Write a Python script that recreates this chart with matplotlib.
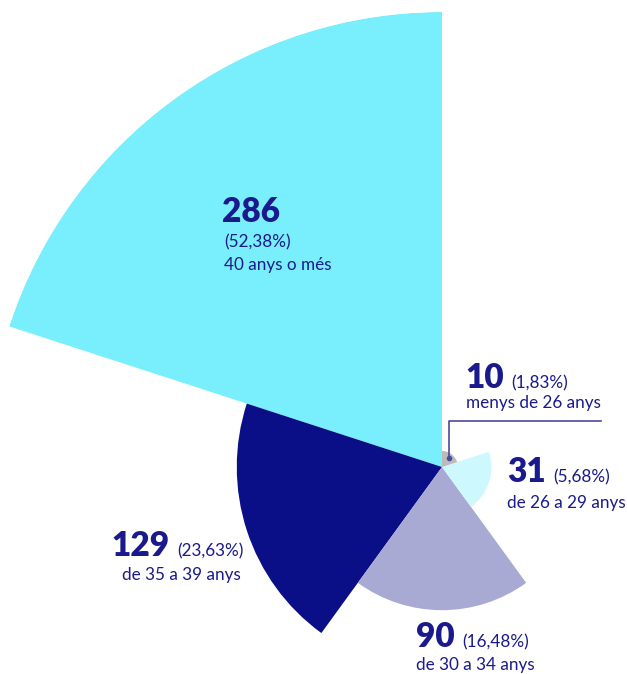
import numpy as np
import matplotlib.pyplot as plt

plt.rcParams['font.family'] = ['Lato', 'DejaVu Sans']

# data
values = [286, 129, 90, 31, 10]
pcts = ['(52,38%)', '(23,63%)', '(16,48%)', '(5,68%)', '(1,83%)']
groups = ['40 anys o més', 'de 35 a 39 anys', 'de 30 a 34 anys',
          'de 26 a 29 anys', 'menys de 26 anys']
colors = ['#79EEFD', '#0A0E87', '#A9AAD3', '#CDF8FE', '#BBBBBB']
txt = '#1A1A8C'

W, H = 627, 674
fig = plt.figure(figsize=(W / 100, H / 100), dpi=100)

# polar axes centred on the wedge origin
cx, cy, R = 442, 467, 455
ax = fig.add_axes([(cx - R) / W, 1 - (cy + R) / H, 2 * R / W, 2 * R / H],
                  projection='polar')
ax.set_theta_zero_location('N')
ax.set_theta_direction(1)

n = len(values)
width = 2 * np.pi / n
theta = np.arange(n) * width + width / 2
ax.bar(theta, values, width=width, color=colors, edgecolor='none')
ax.set_ylim(0, max(values))
ax.axis('off')


def px(x, y):
    return x / W, 1 - y / H


# labels: (number position, pct position or None for inline, group position)
labels = [
    ((222, 222), (224, 247), (224, 270)),
    ((111, 556), None, (122, 580)),
    ((416, 647), None, (416, 670)),
    ((507, 482), None, (507, 508)),
    ((465, 388), None, (466, 408)),
]

small = 12.3
renderer = fig.canvas.get_renderer()
for i, (npos, ppos, gpos) in enumerate(labels):
    t = fig.text(*px(*npos), str(values[i]), color=txt, fontsize=24,
                 fontweight='heavy', va='baseline', ha='left')
    if ppos is None:
        x1 = t.get_window_extent(renderer).x1
        ppos = (x1 + 8, npos[1])
    fig.text(*px(*ppos), pcts[i], color=txt, fontsize=small,
             va='baseline', ha='left')
    fig.text(*px(*gpos), groups[i], color=txt, fontsize=small,
             va='baseline', ha='left')

# leader line for the smallest wedge
lx = [601 / W, 449 / W, 449 / W]
ly = [1 - 421 / H, 1 - 421 / H, 1 - 458 / H]
fig.add_artist(plt.Line2D(lx, ly, color='#4A4A9A', lw=1.2))
fig.add_artist(plt.Line2D([449 / W], [1 - 458 / H], marker='o', ms=3,
                          color='#4A4A9A'))

fig.savefig('out.png', dpi=100)
